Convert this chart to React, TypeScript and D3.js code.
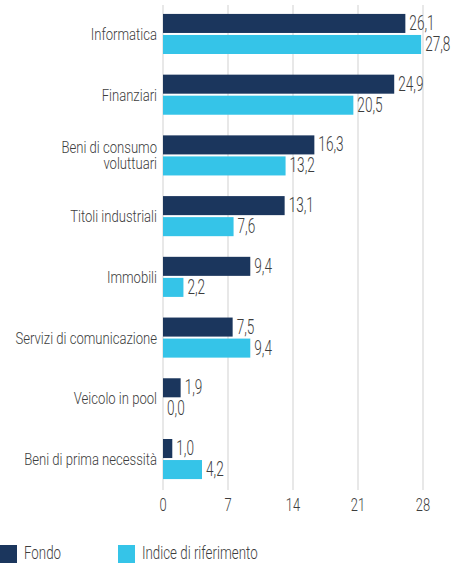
import React from "react";
import * as d3 from "d3";

const categories: string[][] = [
  ["Informatica"],
  ["Finanziari"],
  ["Beni di consumo", "voluttuari"],
  ["Titoli industriali"],
  ["Immobili"],
  ["Servizi di comunicazione"],
  ["Veicolo in pool"],
  ["Beni di prima necessità"],
];
const fondo = [26.1, 24.9, 16.3, 13.1, 9.4, 7.5, 1.9, 1.0];
const indice = [27.8, 20.5, 13.2, 7.6, 2.2, 9.4, 0.0, 4.2];
const seriesNames = ["Fondo", "Indice di riferimento"];
const ticks = [0, 7, 14, 21, 28];

const COLORS = ["#1b365d", "#35c4e8"];
const TEXT = "#3d3d3d";
const FONT = "Roboto, 'Noto Sans', sans-serif";
const LETTER_SX = 0.77;
const DIGIT_SX = 0.68;

function fmt(v: number) {
  return v.toFixed(1).replace(".", ",");
}

export default function App() {
  const W = 454;
  const H = 563;
  const keys = categories.map((c) => c.join(" "));
  const x = d3.scaleLinear().domain([0, 28]).range([163, 423]);
  const y = d3
    .scaleBand<string>()
    .domain(keys)
    .range([3.6, 489.4])
    .paddingInner(0.34)
    .paddingOuter(0.17);
  const inner = d3
    .scaleBand<string>()
    .domain(seriesNames)
    .range([0, y.bandwidth()])
    .paddingInner(0.095);
  const series = [fondo, indice];

  const sText = (
    tx: number,
    ty: number,
    sx: number,
    txt: string,
    size: number,
    anchor: string,
    key: string
  ) => (
    <text
      key={key}
      transform={`translate(${tx},${ty}) scale(${sx},1)`}
      fontSize={size}
      fontFamily={FONT}
      fontWeight={300}
      fill={TEXT}
      textAnchor={anchor}
    >
      {txt}
    </text>
  );

  return (
    <svg
      width={W}
      height={H}
      style={{ position: "absolute", left: 0, top: 0, background: "#fff" }}
    >
      {ticks.map((t) => (
        <line
          key={"g" + t}
          x1={x(t)}
          x2={x(t)}
          y1={5}
          y2={490}
          stroke="#e8e8e8"
          strokeWidth={2}
        />
      ))}
      {keys.map((k, i) => {
        const y0 = y(k)!;
        const center = y0 + y.bandwidth() / 2;
        const lines = categories[i];
        return (
          <g key={k}>
            {series.map((s, si) => {
              const by = y0 + inner(seriesNames[si])!;
              const bh = inner.bandwidth();
              const v = s[i];
              return (
                <g key={si}>
                  {v > 0 && (
                    <rect
                      x={x(0)}
                      y={by}
                      width={x(v) - x(0)}
                      height={bh}
                      fill={COLORS[si]}
                    />
                  )}
                  {sText(
                    x(v) + 4,
                    by + bh / 2 + 6.5,
                    DIGIT_SX,
                    fmt(v),
                    20,
                    "start",
                    "v" + si
                  )}
                </g>
              );
            })}
            {lines.map((ln, li) =>
              sText(
                157,
                center + 6 + (li - (lines.length - 1) / 2) * 16,
                LETTER_SX,
                ln,
                17,
                "end",
                "l" + li
              )
            )}
          </g>
        );
      })}
      {ticks.map((t) =>
        sText(x(t), 510.7, DIGIT_SX, String(t), 19, "middle", "t" + t)
      )}
      {seriesNames.map((n, i) => {
        const lx = [0, 118][i];
        return (
          <g key={n}>
            <rect x={lx} y={545} width={17} height={18} fill={COLORS[i]} />
            {sText(lx + 24, 558.5, 0.72, n, 18.5, "start", "lg" + i)}
          </g>
        );
      })}
    </svg>
  );
}
